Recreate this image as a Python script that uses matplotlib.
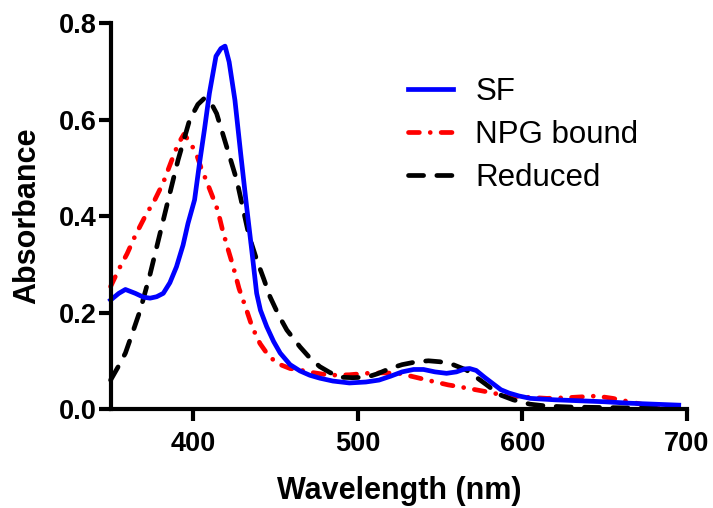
import matplotlib.pyplot as plt

plt.rcParams['font.family'] = ['Liberation Sans', 'DejaVu Sans']

# SF (solid blue)
sf_nm = [350, 355, 359, 365, 370, 374, 378, 382, 386, 390, 394, 397, 401, 404,
         407, 410, 414, 417, 419.5, 422, 425.5, 429, 432.6, 435.7, 438.7, 441,
         444.8, 449, 453, 459, 465, 471, 477, 485, 495, 505, 513, 520, 527, 534,
         540, 547, 554, 560, 565, 568, 572, 577, 582, 587, 592, 598, 605, 620,
         635, 650, 665, 680, 695]
sf_abs = [0.226, 0.240, 0.248, 0.240, 0.232, 0.230, 0.233, 0.240, 0.262, 0.295,
          0.340, 0.385, 0.434, 0.510, 0.580, 0.655, 0.732, 0.748, 0.753, 0.720,
          0.641, 0.530, 0.420, 0.330, 0.240, 0.205, 0.171, 0.140, 0.116, 0.092,
          0.079, 0.070, 0.064, 0.058, 0.054, 0.056, 0.060, 0.068, 0.077, 0.082,
          0.082, 0.077, 0.074, 0.077, 0.083, 0.084, 0.080, 0.066, 0.053, 0.040,
          0.033, 0.027, 0.022, 0.019, 0.017, 0.015, 0.012, 0.010, 0.008]

# NPG bound (red dash-dot)
npg_nm = [350, 355, 360, 365, 371, 377, 382, 387, 391, 394.5, 398, 402,
          405, 408, 412, 415, 418, 421, 424.5, 428, 432.6, 436, 440.7, 445,
          450.8, 459, 465, 472, 483, 495, 505, 515, 525, 535, 546, 555, 562,
          570, 578, 588, 600, 615, 630, 645, 655, 665, 675, 685, 694]
npg_abs = [0.254, 0.290, 0.322, 0.360, 0.400, 0.435, 0.470, 0.515, 0.550, 0.570,
           0.555, 0.530, 0.500, 0.475, 0.440, 0.413, 0.371, 0.335,
           0.295, 0.250, 0.205, 0.170, 0.136, 0.115, 0.095, 0.084, 0.081, 0.076,
           0.070, 0.071, 0.074, 0.075, 0.074, 0.066, 0.057, 0.050, 0.046, 0.041,
           0.036, 0.029, 0.025, 0.022, 0.024, 0.027, 0.022, 0.015, 0.008, 0.003,
           0.001]

# Reduced (black dashed)
red_nm = [350, 355, 359, 364, 368, 374, 380, 385, 391, 398, 403, 407, 411,
          414.4, 420.5, 426.6, 430.6, 434, 438.7, 443, 446.8, 452, 457, 465,
          471, 477, 483, 489, 497, 505.5, 512, 519.6, 527, 535.8, 543, 550, 558,
          566, 572, 578.4, 586, 594.5, 604.6, 615, 630, 650, 670, 695]
red_abs = [0.060, 0.090, 0.116, 0.165, 0.205, 0.280, 0.364, 0.434, 0.517, 0.600,
           0.632, 0.645, 0.635, 0.613, 0.544, 0.475, 0.413, 0.360, 0.310, 0.270,
           0.233, 0.195, 0.164, 0.129, 0.106, 0.088, 0.076, 0.066, 0.065, 0.066,
           0.073, 0.084, 0.092, 0.098, 0.100, 0.098, 0.092, 0.081, 0.066, 0.050,
           0.030, 0.019, 0.010, 0.006, 0.004, 0.003, 0.002, 0.001]

xticks = [400, 500, 600, 700]
yticks = [0.0, 0.2, 0.4, 0.6, 0.8]

fig = plt.figure(figsize=(7.13, 5.08), dpi=100)
ax = fig.add_axes([0.1551, 0.1949, 0.8084, 0.7589])

lw = 3.4
l_npg, = ax.plot(npg_nm, npg_abs, color='red', lw=lw, dashes=(2.3, 2.3, 0.01, 2.3),
                 dash_capstyle='round', label='NPG bound', clip_on=False)
l_red, = ax.plot(red_nm, red_abs, color='black', lw=lw, dashes=(3.2, 2.8),
                 dash_capstyle='round', label='Reduced', clip_on=False)
l_sf, = ax.plot(sf_nm, sf_abs, color='blue', lw=lw, label='SF', clip_on=False)

ax.set_xlim(350, 700)
ax.set_ylim(0, 0.8)
ax.set_xticks(xticks)
ax.set_yticks(yticks)
ax.set_yticklabels(['%.1f' % v for v in yticks])

for s in ['top', 'right']:
    ax.spines[s].set_visible(False)
for s in ['left', 'bottom']:
    ax.spines[s].set_linewidth(3)
ax.tick_params(width=3, length=8.5, labelsize=19.5)
ax.tick_params(axis='y', pad=1.5)
ax.tick_params(axis='x', pad=7)
for lab in ax.get_xticklabels() + ax.get_yticklabels():
    lab.set_fontweight('bold')

ax.set_xlabel('Wavelength (nm)', fontsize=22, fontweight='bold', labelpad=14)
ax.set_ylabel('Absorbance', fontsize=22, fontweight='bold', labelpad=12)

fig.legend(handles=[l_sf, l_npg, l_red], loc='upper left',
           bbox_to_anchor=(408 / 713, 1 - 77 / 508), frameon=False,
           fontsize=22.5, handlelength=1.45, handletextpad=0.7,
           labelspacing=0.42, borderpad=0, borderaxespad=0)

plt.savefig('out.png', dpi=100)
